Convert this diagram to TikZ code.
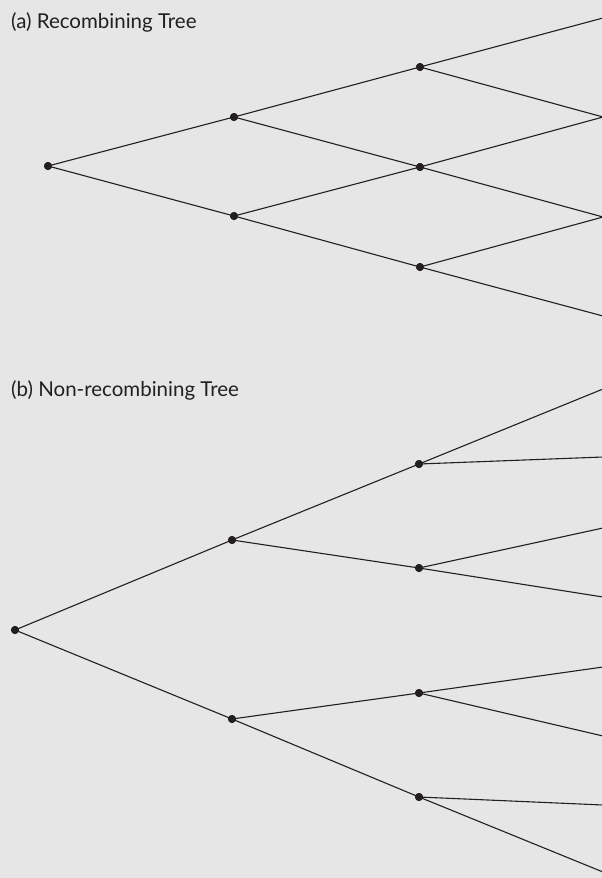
\documentclass[tikz,border=0pt]{standalone}
\usepackage{fontspec}
\setmainfont{Lato}
\definecolor{bg}{HTML}{E6E6E6}
\definecolor{ink}{HTML}{231F20}
\begin{document}
\begin{tikzpicture}[x=1pt,y=-1pt,
  dot/.style={circle,fill=ink,inner sep=0pt,minimum size=8pt},
  edge/.style={draw=ink,line width=1.1pt},
  title/.style={anchor=base west,inner sep=0pt,text=ink,font=\fontsize{20.5}{24}\selectfont}]
\fill[bg] (0,0) rectangle (602,878);
\useasboundingbox (0,0) rectangle (602,878);
% (a)
\node[title] (ta) at (11,28) {(a) Recombining Tree};
\node[dot] (a0) at (48,166) {};
\node[dot] (a1u) at (234,117) {};
\node[dot] (a1d) at (234,216) {};
\node[dot] (a2u) at (420,67) {};
\node[dot] (a2m) at (420,167) {};
\node[dot] (a2d) at (420,267) {};
\coordinate (a3a) at (603,18);
\coordinate (a3b) at (603,117);
\coordinate (a3c) at (603,217);
\coordinate (a3d) at (603,316);
\draw[edge] (a0.center) -- (a1u.center);
\draw[edge] (a0.center) -- (a1d.center);
\draw[edge] (a1u.center) -- (a2u.center);
\draw[edge] (a1u.center) -- (a2m.center);
\draw[edge] (a1d.center) -- (a2m.center);
\draw[edge] (a1d.center) -- (a2d.center);
\draw[edge] (a2u.center) -- (a3a);
\draw[edge] (a2u.center) -- (a3b);
\draw[edge] (a2m.center) -- (a3b);
\draw[edge] (a2m.center) -- (a3c);
\draw[edge] (a2d.center) -- (a3c);
\draw[edge] (a2d.center) -- (a3d);
% (b)
\node[title] (tb) at (11,396) {(b) Non-recombining Tree};
\node[dot] (b0) at (15,630) {};
\node[dot] (b1u) at (232,540) {};
\node[dot] (b1d) at (232,719) {};
\node[dot] (b2a) at (419,464) {};
\node[dot] (b2b) at (419,568) {};
\node[dot] (b2c) at (419,693) {};
\node[dot] (b2d) at (419,797) {};
\coordinate (b3a) at (603,389);
\coordinate (b3b) at (603,457);
\coordinate (b3c) at (603,528);
\coordinate (b3d) at (603,597);
\coordinate (b3e) at (603,667);
\coordinate (b3f) at (603,736);
\coordinate (b3g) at (603,805);
\coordinate (b3h) at (603,872);
\draw[edge] (b0.center) -- (b1u.center);
\draw[edge] (b0.center) -- (b1d.center);
\draw[edge] (b1u.center) -- (b2a.center);
\draw[edge] (b1u.center) -- (b2b.center);
\draw[edge] (b1d.center) -- (b2c.center);
\draw[edge] (b1d.center) -- (b2d.center);
\draw[edge] (b2a.center) -- (b3a);
\draw[edge] (b2a.center) -- (b3b);
\draw[edge] (b2b.center) -- (b3c);
\draw[edge] (b2b.center) -- (b3d);
\draw[edge] (b2c.center) -- (b3e);
\draw[edge] (b2c.center) -- (b3f);
\draw[edge] (b2d.center) -- (b3g);
\draw[edge] (b2d.center) -- (b3h);
\foreach \n in {a0,a1u,a1d,a2u,a2m,a2d,b0,b1u,b1d,b2a,b2b,b2c,b2d}
  \node[dot] at (\n) {};
\end{tikzpicture}
\end{document}
